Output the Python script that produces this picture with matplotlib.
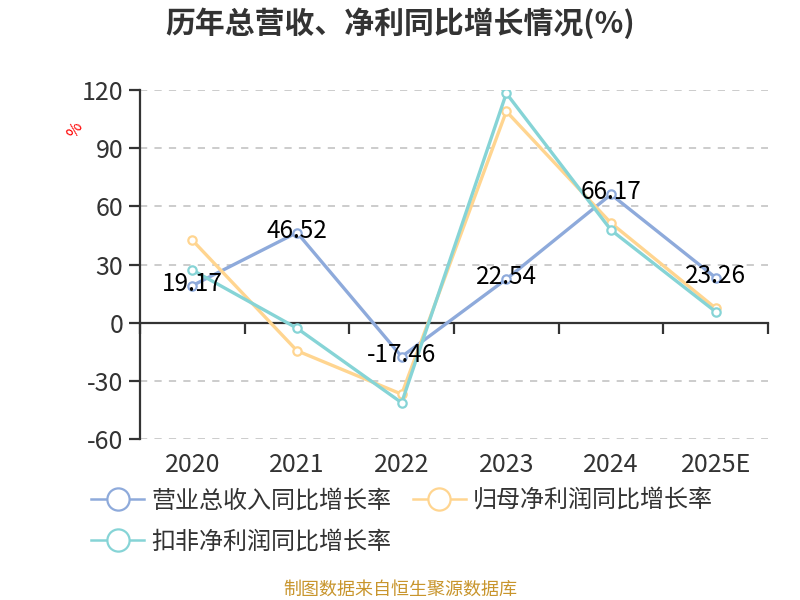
import matplotlib
matplotlib.use("Agg")
import matplotlib.pyplot as plt
from matplotlib.lines import Line2D

plt.rcParams['font.family'] = ['Noto Sans CJK SC', 'DejaVu Sans']

years = ["2020", "2021", "2022", "2023", "2024", "2025E"]
revenue_growth = [19.17, 46.52, -17.46, 22.54, 66.17, 23.26]
net_profit_growth = [42.6, -14.4, -36.8, 109.0, 51.4, 7.5]
deducted_profit_growth = [27.2, -2.8, -41.2, 118.3, 47.8, 5.7]
series_names = ["营业总收入同比增长率", "归母净利润同比增长率", "扣非净利润同比增长率"]
y_ticks = [-60, -30, 0, 30, 60, 90, 120]

colors = ["#8eaadb", "#ffd590", "#86d4d6"]
text_color = "#333333"

fig = plt.figure(figsize=(8, 6), dpi=100)
ax = fig.add_axes([0.175, 0.268, 0.785, 0.582])

x = list(range(len(years)))
all_series = [revenue_growth, net_profit_growth, deducted_profit_growth]
for i, (vals, c) in enumerate(zip(all_series, colors)):
    ax.plot(x, vals, color=c, lw=2.4, marker='o', ms=6, mfc='white',
            mec=c, mew=1.6, zorder=3 + i)

for xi, v in zip(x, revenue_growth):
    ax.text(xi, v + 1, f"{v:.2f}", ha='center', va='center', fontsize=17.5,
            color='black', zorder=10)

ax.set_xlim(-0.5, len(years) - 0.5)
ax.set_ylim(-60, 120)
ax.set_yticks(y_ticks)
ax.set_yticklabels([str(t) for t in y_ticks], fontsize=18, color=text_color)
ax.tick_params(axis='y', length=8, width=1.6, color=text_color, pad=4)

ax.set_xticks([i - 0.5 for i in range(len(years) + 1)])
ax.set_xticklabels([])
ax.tick_params(axis='x', length=8, width=1.6, color=text_color, direction='out')

for yv in y_ticks:
    ax.axhline(yv, color='#c8c8c8', lw=1.3, ls=(0, (4, 4)), zorder=1)

for s in ['top', 'right']:
    ax.spines[s].set_visible(False)
ax.spines['bottom'].set_position(('data', 0))
ax.spines['bottom'].set_color(text_color)
ax.spines['bottom'].set_linewidth(1.6)
ax.spines['left'].set_color(text_color)
ax.spines['left'].set_linewidth(1.6)

for xi, lab in zip(x, years):
    ax.text(xi, -0.075, lab, transform=ax.get_xaxis_transform(), ha='center',
            va='center', fontsize=18, color=text_color)

ax.text(-0.103, 0.885, "%", transform=ax.transAxes, rotation=60, color='red',
        fontsize=12, ha='center', va='center')

fig.text(0.5, 0.962, "历年总营收、净利同比增长情况(%)", ha='center', va='center',
         fontsize=21.5, fontweight='bold', color=text_color)

handles = [Line2D([0], [0], color=c, lw=1.8, marker='o', ms=16, mfc='white',
                  mec=c, mew=1.6) for c in colors]
order = [0, 2, 1]
fig.legend([handles[i] for i in order], [series_names[i] for i in order],
           loc='upper left', bbox_to_anchor=(0.099, 0.207), ncol=2,
           frameon=False, fontsize=17.3, handlelength=2.2, handletextpad=0.3,
           columnspacing=0.9, labelspacing=0.6, borderpad=0,
           labelcolor=text_color)

fig.text(0.5, 0.017, "制图数据来自恒生聚源数据库", ha='center', va='center',
         fontsize=13, color='#c8952c')

fig.savefig("out.png", dpi=100)
